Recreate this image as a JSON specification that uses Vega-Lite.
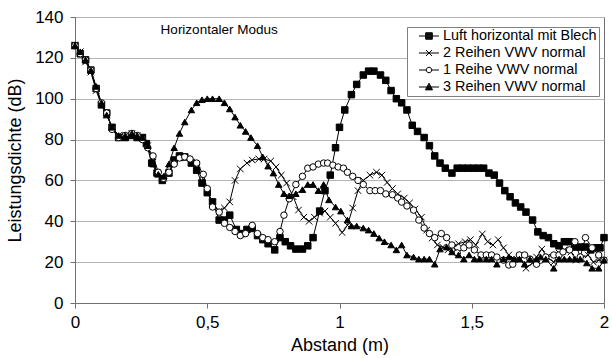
{
  "$schema": "https://vega.github.io/schema/vega-lite/v6.json",
  "width": 529,
  "height": 286,
  "autosize": "none",
  "padding": {"left": 75, "top": 17, "right": 8, "bottom": 55},
  "background": "white",
  "config": {
    "font": "Liberation Sans",
    "view": {"stroke": "#707070", "strokeWidth": 1},
    "axis": {
      "domainColor": "#707070",
      "tickColor": "#707070",
      "tickSize": 5,
      "labelColor": "black",
      "titleColor": "black",
      "labelFontSize": 17,
      "titleFontSize": 18,
      "titleFontWeight": "normal",
      "gridColor": "#b4b4b4",
      "gridWidth": 1
    }
  },
  "data": {
    "values": [
      {"s":"L","x":0,"y":126},{"s":"L","x":0.02,"y":122},{"s":"L","x":0.04,"y":119},{"s":"L","x":0.06,"y":114},{"s":"L","x":0.08,"y":105},
      {"s":"L","x":0.1,"y":97},{"s":"L","x":0.12,"y":93},{"s":"L","x":0.14,"y":86},{"s":"L","x":0.165,"y":81},{"s":"L","x":0.19,"y":81},
      {"s":"L","x":0.215,"y":82},{"s":"L","x":0.235,"y":81},{"s":"L","x":0.255,"y":81},{"s":"L","x":0.27,"y":78},{"s":"L","x":0.29,"y":68.5},
      {"s":"L","x":0.31,"y":63.6},{"s":"L","x":0.33,"y":60},{"s":"L","x":0.355,"y":63.6},{"s":"L","x":0.375,"y":70},{"s":"L","x":0.395,"y":72},
      {"s":"L","x":0.415,"y":71.5},{"s":"L","x":0.44,"y":68.5},{"s":"L","x":0.46,"y":65},{"s":"L","x":0.48,"y":58.7},{"s":"L","x":0.5,"y":54},
      {"s":"L","x":0.52,"y":49.5},{"s":"L","x":0.545,"y":40.6},{"s":"L","x":0.565,"y":40.6},{"s":"L","x":0.585,"y":43},{"s":"L","x":0.61,"y":36},
      {"s":"L","x":0.63,"y":34},{"s":"L","x":0.65,"y":36},{"s":"L","x":0.67,"y":36.5},{"s":"L","x":0.69,"y":33},{"s":"L","x":0.71,"y":31},
      {"s":"L","x":0.73,"y":29},{"s":"L","x":0.755,"y":26},{"s":"L","x":0.775,"y":32},{"s":"L","x":0.795,"y":30},{"s":"L","x":0.815,"y":28},
      {"s":"L","x":0.835,"y":26.4},{"s":"L","x":0.86,"y":26.4},{"s":"L","x":0.88,"y":28},{"s":"L","x":0.9,"y":32},{"s":"L","x":0.925,"y":45},
      {"s":"L","x":0.945,"y":55},{"s":"L","x":0.965,"y":62.6},{"s":"L","x":0.985,"y":76},{"s":"L","x":1.0,"y":86},{"s":"L","x":1.02,"y":94.5},
      {"s":"L","x":1.045,"y":102},{"s":"L","x":1.065,"y":107},{"s":"L","x":1.09,"y":111.6},{"s":"L","x":1.11,"y":113.5},{"s":"L","x":1.13,"y":113.5},
      {"s":"L","x":1.155,"y":111.6},{"s":"L","x":1.175,"y":109},{"s":"L","x":1.195,"y":104},{"s":"L","x":1.215,"y":100},{"s":"L","x":1.235,"y":98},
      {"s":"L","x":1.255,"y":94.5},{"s":"L","x":1.275,"y":87},{"s":"L","x":1.295,"y":84},{"s":"L","x":1.32,"y":81},{"s":"L","x":1.34,"y":77},
      {"s":"L","x":1.36,"y":72},{"s":"L","x":1.38,"y":68.5},{"s":"L","x":1.4,"y":66},{"s":"L","x":1.425,"y":63.6},{"s":"L","x":1.445,"y":66},
      {"s":"L","x":1.465,"y":66},{"s":"L","x":1.485,"y":66},{"s":"L","x":1.505,"y":66},{"s":"L","x":1.525,"y":66},{"s":"L","x":1.545,"y":66},
      {"s":"L","x":1.565,"y":63.6},{"s":"L","x":1.585,"y":62.6},{"s":"L","x":1.605,"y":58.7},{"s":"L","x":1.625,"y":55},{"s":"L","x":1.645,"y":52},
      {"s":"L","x":1.665,"y":49},{"s":"L","x":1.685,"y":47},{"s":"L","x":1.705,"y":44.5},{"s":"L","x":1.73,"y":40.6},{"s":"L","x":1.75,"y":34.8},
      {"s":"L","x":1.77,"y":33},{"s":"L","x":1.79,"y":32},{"s":"L","x":1.81,"y":29},{"s":"L","x":1.83,"y":28},{"s":"L","x":1.85,"y":30},
      {"s":"L","x":1.87,"y":30},{"s":"L","x":1.89,"y":27.4},{"s":"L","x":1.91,"y":27.4},{"s":"L","x":1.93,"y":27.4},{"s":"L","x":1.95,"y":26},
      {"s":"L","x":1.97,"y":27},{"s":"L","x":1.985,"y":27},{"s":"L","x":2.0,"y":32},

      {"s":"R2","x":0,"y":126},{"s":"R2","x":0.02,"y":123},{"s":"R2","x":0.04,"y":118},{"s":"R2","x":0.06,"y":113},{"s":"R2","x":0.08,"y":104},
      {"s":"R2","x":0.1,"y":97},{"s":"R2","x":0.12,"y":92},{"s":"R2","x":0.14,"y":86},{"s":"R2","x":0.165,"y":82},{"s":"R2","x":0.19,"y":82},
      {"s":"R2","x":0.215,"y":83},{"s":"R2","x":0.235,"y":82},{"s":"R2","x":0.255,"y":81},{"s":"R2","x":0.275,"y":77},{"s":"R2","x":0.295,"y":69},
      {"s":"R2","x":0.315,"y":63},{"s":"R2","x":0.335,"y":61},{"s":"R2","x":0.355,"y":64},{"s":"R2","x":0.375,"y":69},{"s":"R2","x":0.395,"y":71},
      {"s":"R2","x":0.415,"y":71},{"s":"R2","x":0.44,"y":69},{"s":"R2","x":0.46,"y":66},{"s":"R2","x":0.48,"y":62},{"s":"R2","x":0.5,"y":55},
      {"s":"R2","x":0.52,"y":49},{"s":"R2","x":0.545,"y":45},{"s":"R2","x":0.565,"y":46.5},{"s":"R2","x":0.585,"y":49.5},{"s":"R2","x":0.605,"y":60},
      {"s":"R2","x":0.625,"y":65.6},{"s":"R2","x":0.65,"y":68.5},{"s":"R2","x":0.67,"y":70},{"s":"R2","x":0.695,"y":70.5},{"s":"R2","x":0.715,"y":70.5},
      {"s":"R2","x":0.74,"y":69.5},{"s":"R2","x":0.76,"y":66.6},{"s":"R2","x":0.78,"y":62.6},{"s":"R2","x":0.8,"y":58.7},{"s":"R2","x":0.825,"y":52},
      {"s":"R2","x":0.845,"y":45.5},{"s":"R2","x":0.865,"y":42},{"s":"R2","x":0.885,"y":40},{"s":"R2","x":0.905,"y":42},{"s":"R2","x":0.925,"y":44},
      {"s":"R2","x":0.945,"y":45},{"s":"R2","x":0.965,"y":42},{"s":"R2","x":0.985,"y":39},{"s":"R2","x":1.01,"y":34.5},{"s":"R2","x":1.03,"y":38},
      {"s":"R2","x":1.05,"y":46.5},{"s":"R2","x":1.07,"y":55},{"s":"R2","x":1.09,"y":60},{"s":"R2","x":1.115,"y":62.6},{"s":"R2","x":1.14,"y":64},
      {"s":"R2","x":1.16,"y":62.6},{"s":"R2","x":1.18,"y":59},{"s":"R2","x":1.2,"y":56},{"s":"R2","x":1.22,"y":53.4},{"s":"R2","x":1.245,"y":51.4},
      {"s":"R2","x":1.265,"y":49},{"s":"R2","x":1.285,"y":46},{"s":"R2","x":1.31,"y":42},{"s":"R2","x":1.33,"y":35.7},{"s":"R2","x":1.35,"y":31.8},
      {"s":"R2","x":1.37,"y":28.4},{"s":"R2","x":1.39,"y":27.4},{"s":"R2","x":1.41,"y":26},{"s":"R2","x":1.43,"y":27.4},{"s":"R2","x":1.45,"y":29},
      {"s":"R2","x":1.475,"y":30},{"s":"R2","x":1.495,"y":31},{"s":"R2","x":1.515,"y":28.4},{"s":"R2","x":1.54,"y":33.8},{"s":"R2","x":1.56,"y":30},
      {"s":"R2","x":1.58,"y":28.4},{"s":"R2","x":1.6,"y":31},{"s":"R2","x":1.62,"y":27},{"s":"R2","x":1.64,"y":23.5},{"s":"R2","x":1.66,"y":21.5},
      {"s":"R2","x":1.685,"y":21.5},{"s":"R2","x":1.705,"y":17},{"s":"R2","x":1.73,"y":19.6},{"s":"R2","x":1.745,"y":22.5},{"s":"R2","x":1.765,"y":26.4},
      {"s":"R2","x":1.785,"y":22.5},{"s":"R2","x":1.81,"y":20},{"s":"R2","x":1.83,"y":24.5},{"s":"R2","x":1.85,"y":26},{"s":"R2","x":1.875,"y":25},
      {"s":"R2","x":1.895,"y":21},{"s":"R2","x":1.915,"y":22},{"s":"R2","x":1.94,"y":23.5},{"s":"R2","x":1.96,"y":20},{"s":"R2","x":1.98,"y":21},
      {"s":"R2","x":2.0,"y":21},

      {"s":"R1","x":0,"y":126},{"s":"R1","x":0.02,"y":122},{"s":"R1","x":0.04,"y":119},{"s":"R1","x":0.06,"y":114},{"s":"R1","x":0.08,"y":105},
      {"s":"R1","x":0.1,"y":98},{"s":"R1","x":0.12,"y":93},{"s":"R1","x":0.14,"y":85},{"s":"R1","x":0.165,"y":81},{"s":"R1","x":0.19,"y":82},
      {"s":"R1","x":0.215,"y":83},{"s":"R1","x":0.235,"y":82},{"s":"R1","x":0.255,"y":80},{"s":"R1","x":0.275,"y":76},{"s":"R1","x":0.295,"y":72},
      {"s":"R1","x":0.315,"y":64},{"s":"R1","x":0.335,"y":61},{"s":"R1","x":0.355,"y":64},{"s":"R1","x":0.375,"y":68},{"s":"R1","x":0.395,"y":71},
      {"s":"R1","x":0.415,"y":71.5},{"s":"R1","x":0.435,"y":70.5},{"s":"R1","x":0.46,"y":68.5},{"s":"R1","x":0.485,"y":63},{"s":"R1","x":0.5,"y":56},
      {"s":"R1","x":0.52,"y":47},{"s":"R1","x":0.545,"y":44.5},{"s":"R1","x":0.565,"y":39},{"s":"R1","x":0.585,"y":37},{"s":"R1","x":0.605,"y":35},
      {"s":"R1","x":0.625,"y":33},{"s":"R1","x":0.645,"y":34},{"s":"R1","x":0.67,"y":38},{"s":"R1","x":0.69,"y":34},{"s":"R1","x":0.71,"y":32},
      {"s":"R1","x":0.73,"y":31},{"s":"R1","x":0.755,"y":30},{"s":"R1","x":0.775,"y":35},{"s":"R1","x":0.79,"y":43},{"s":"R1","x":0.81,"y":51},
      {"s":"R1","x":0.835,"y":58},{"s":"R1","x":0.86,"y":62},{"s":"R1","x":0.88,"y":66},{"s":"R1","x":0.9,"y":66.6},{"s":"R1","x":0.92,"y":68},
      {"s":"R1","x":0.94,"y":68.5},{"s":"R1","x":0.955,"y":68.5},{"s":"R1","x":0.975,"y":67.5},{"s":"R1","x":0.995,"y":66.6},{"s":"R1","x":1.015,"y":66},
      {"s":"R1","x":1.03,"y":64},{"s":"R1","x":1.05,"y":62},{"s":"R1","x":1.07,"y":60},{"s":"R1","x":1.09,"y":58},{"s":"R1","x":1.115,"y":55},
      {"s":"R1","x":1.135,"y":55},{"s":"R1","x":1.155,"y":55},{"s":"R1","x":1.175,"y":53.4},{"s":"R1","x":1.2,"y":53},{"s":"R1","x":1.22,"y":51.4},
      {"s":"R1","x":1.235,"y":49.4},{"s":"R1","x":1.255,"y":47.5},{"s":"R1","x":1.28,"y":45.5},{"s":"R1","x":1.3,"y":40.6},{"s":"R1","x":1.32,"y":36.7},
      {"s":"R1","x":1.34,"y":34},{"s":"R1","x":1.36,"y":32},{"s":"R1","x":1.385,"y":34},{"s":"R1","x":1.405,"y":32},{"s":"R1","x":1.425,"y":28.4},
      {"s":"R1","x":1.445,"y":24.5},{"s":"R1","x":1.47,"y":27},{"s":"R1","x":1.49,"y":28.4},{"s":"R1","x":1.51,"y":26},{"s":"R1","x":1.535,"y":23.5},
      {"s":"R1","x":1.555,"y":23.5},{"s":"R1","x":1.575,"y":23.5},{"s":"R1","x":1.595,"y":22.5},{"s":"R1","x":1.62,"y":21},{"s":"R1","x":1.64,"y":18.6},
      {"s":"R1","x":1.655,"y":19},{"s":"R1","x":1.68,"y":23.5},{"s":"R1","x":1.7,"y":23.5},{"s":"R1","x":1.72,"y":21.5},{"s":"R1","x":1.745,"y":19},
      {"s":"R1","x":1.76,"y":21},{"s":"R1","x":1.78,"y":22.5},{"s":"R1","x":1.81,"y":23.5},{"s":"R1","x":1.83,"y":23.5},{"s":"R1","x":1.845,"y":25},
      {"s":"R1","x":1.87,"y":26},{"s":"R1","x":1.89,"y":30},{"s":"R1","x":1.91,"y":22.5},{"s":"R1","x":1.93,"y":32},{"s":"R1","x":1.955,"y":27},
      {"s":"R1","x":1.98,"y":23.5},{"s":"R1","x":2.0,"y":21},

      {"s":"R3","x":0,"y":126},{"s":"R3","x":0.02,"y":123},{"s":"R3","x":0.04,"y":119},{"s":"R3","x":0.06,"y":114},{"s":"R3","x":0.08,"y":106},
      {"s":"R3","x":0.1,"y":98},{"s":"R3","x":0.12,"y":92},{"s":"R3","x":0.14,"y":86},{"s":"R3","x":0.165,"y":82},{"s":"R3","x":0.19,"y":82},
      {"s":"R3","x":0.215,"y":83},{"s":"R3","x":0.235,"y":82},{"s":"R3","x":0.255,"y":81},{"s":"R3","x":0.275,"y":77},{"s":"R3","x":0.295,"y":68},
      {"s":"R3","x":0.315,"y":63},{"s":"R3","x":0.335,"y":62},{"s":"R3","x":0.355,"y":68},{"s":"R3","x":0.375,"y":76},{"s":"R3","x":0.395,"y":83},
      {"s":"R3","x":0.415,"y":88.6},{"s":"R3","x":0.44,"y":94.5},{"s":"R3","x":0.46,"y":98},{"s":"R3","x":0.48,"y":99.5},{"s":"R3","x":0.5,"y":100},
      {"s":"R3","x":0.52,"y":100},{"s":"R3","x":0.545,"y":100},{"s":"R3","x":0.565,"y":98},{"s":"R3","x":0.585,"y":95},{"s":"R3","x":0.605,"y":91},
      {"s":"R3","x":0.625,"y":87},{"s":"R3","x":0.645,"y":84},{"s":"R3","x":0.665,"y":81},{"s":"R3","x":0.69,"y":77},{"s":"R3","x":0.71,"y":71.5},
      {"s":"R3","x":0.73,"y":67},{"s":"R3","x":0.75,"y":63.6},{"s":"R3","x":0.77,"y":58},{"s":"R3","x":0.79,"y":53.5},{"s":"R3","x":0.81,"y":52.5},
      {"s":"R3","x":0.835,"y":53.5},{"s":"R3","x":0.86,"y":55.5},{"s":"R3","x":0.88,"y":58},{"s":"R3","x":0.9,"y":58},{"s":"R3","x":0.92,"y":55},
      {"s":"R3","x":0.94,"y":58},{"s":"R3","x":0.96,"y":50.5},{"s":"R3","x":0.985,"y":47},{"s":"R3","x":1.005,"y":45},{"s":"R3","x":1.03,"y":40.6},
      {"s":"R3","x":1.045,"y":37.7},{"s":"R3","x":1.065,"y":37.7},{"s":"R3","x":1.09,"y":36.7},{"s":"R3","x":1.11,"y":35.7},{"s":"R3","x":1.13,"y":34},
      {"s":"R3","x":1.15,"y":31.8},{"s":"R3","x":1.17,"y":30},{"s":"R3","x":1.195,"y":28.4},{"s":"R3","x":1.215,"y":26},{"s":"R3","x":1.235,"y":28.4},
      {"s":"R3","x":1.255,"y":23.5},{"s":"R3","x":1.28,"y":22.5},{"s":"R3","x":1.3,"y":21.5},{"s":"R3","x":1.32,"y":21.5},{"s":"R3","x":1.34,"y":21.5},
      {"s":"R3","x":1.36,"y":19},{"s":"R3","x":1.38,"y":26.4},{"s":"R3","x":1.405,"y":27.4},{"s":"R3","x":1.425,"y":25},{"s":"R3","x":1.45,"y":23.5},
      {"s":"R3","x":1.47,"y":21.5},{"s":"R3","x":1.49,"y":23.5},{"s":"R3","x":1.51,"y":21.5},{"s":"R3","x":1.53,"y":21.5},{"s":"R3","x":1.555,"y":21.5},
      {"s":"R3","x":1.575,"y":21.5},{"s":"R3","x":1.595,"y":19},{"s":"R3","x":1.62,"y":21.5},{"s":"R3","x":1.64,"y":22.5},{"s":"R3","x":1.66,"y":21.5},
      {"s":"R3","x":1.68,"y":21.5},{"s":"R3","x":1.7,"y":19},{"s":"R3","x":1.72,"y":21.5},{"s":"R3","x":1.745,"y":21.5},{"s":"R3","x":1.76,"y":22.5},
      {"s":"R3","x":1.78,"y":21.5},{"s":"R3","x":1.81,"y":17},{"s":"R3","x":1.83,"y":21.5},{"s":"R3","x":1.85,"y":21.5},{"s":"R3","x":1.87,"y":21.5},
      {"s":"R3","x":1.89,"y":21.5},{"s":"R3","x":1.91,"y":21.5},{"s":"R3","x":1.935,"y":19.6},{"s":"R3","x":1.955,"y":17},{"s":"R3","x":1.98,"y":17},
      {"s":"R3","x":2.0,"y":21}
    ]
  },
  "encoding": {
    "x": {
      "field": "x",
      "type": "quantitative",
      "title": "Abstand (m)",
      "scale": {"domain": [0, 2], "nice": false},
      "axis": {"values": [0, 0.5, 1, 1.5, 2], "grid": false, "labelFlush": false, "labelExpr": "replace(format(datum.value, '~g'), '.', ',')", "labelPadding": 6, "titlePadding": 6}
    },
    "y": {
      "field": "y",
      "type": "quantitative",
      "title": "Leistungsdichte (dB)",
      "scale": {"domain": [0, 140], "nice": false},
      "axis": {"values": [0, 20, 40, 60, 80, 100, 120, 140], "grid": true, "labelPadding": 7, "titlePadding": 10}
    }
  },
  "layer": [
    {
      "mark": {"type": "line", "color": "black", "strokeWidth": 1},
      "encoding": {"detail": {"field": "s"}, "order": {"field": "x"}}
    },
    {
      "mark": {"type": "point", "filled": true, "stroke": "black", "strokeWidth": 1, "opacity": 1, "size": 42},
      "encoding": {
        "shape": {
          "field": "s",
          "scale": {"domain": ["L", "R2", "R1", "R3"], "range": ["square", "M-1,-1L1,1M-1,1L1,-1", "circle", "triangle-up"]},
          "legend": null
        },
        "fill": {
          "condition": [
            {"test": "datum.s === 'R1'", "value": "white"},
            {"test": "datum.s === 'R2'", "value": "transparent"}
          ],
          "value": "black"
        }
      }
    },
    {
      "transform": [{"filter": "datum.s === 'L' && datum.x === 0"}],
      "mark": {"type": "text", "font": "Liberation Sans", "fontSize": 13.5, "color": "black"},
      "encoding": {
        "x": {"datum": 0.545},
        "y": {"datum": 133.6},
        "text": {"value": "Horizontaler Modus"}
      }
    },
    {
      "mark": {"type": "point", "filled": true, "fill": "white", "stroke": "black", "strokeWidth": 1, "opacity": 0},
      "encoding": {
        "shape": {
          "field": "s",
          "scale": {
            "domain": ["L", "R2", "R1", "R3"],
            "range": [
              "M-0.91,0H0.91M-0.3,-0.3H0.3V0.3H-0.3ZM-0.3,-0.22H0.3M-0.3,-0.14H0.3M-0.3,-0.06H0.3M-0.3,0.06H0.3M-0.3,0.14H0.3M-0.3,0.22H0.3",
              "M-0.91,0H0.91M-0.27,-0.27L0.27,0.27M-0.27,0.27L0.27,-0.27",
              "M-0.91,0H-0.25M0.25,0H0.91M-0.25,0A0.25,0.25,0,1,0,0.25,0A0.25,0.25,0,1,0,-0.25,0Z",
              "M-0.91,0H0.91M0,-0.34L0.32,0.26H-0.32ZM-0.04,-0.26H0.04M-0.085,-0.18H0.085M-0.128,-0.1H0.128M-0.171,-0.02H0.171M-0.213,0.06H0.213M-0.256,0.14H0.256M-0.299,0.22H0.299"
            ]
          },
          "legend": {
            "title": null,
            "orient": "none",
            "legendX": 332,
            "legendY": 10,
            "strokeColor": "#808080",
            "fillColor": "white",
            "padding": 2,
            "symbolSize": 484,
            "symbolOffset": 8.5,
            "symbolStrokeWidth": 1,
            "symbolFillColor": "white",
            "clipHeight": 14,
            "rowPadding": 2,
            "labelFontSize": 14.4,
            "labelColor": "black",
            "labelOffset": 2.5,
            "labelExpr": "{'L': 'Luft horizontal mit Blech', 'R2': '2 Reihen VWV normal', 'R1': '1 Reihe VWV normal', 'R3': '3 Reihen VWV normal'}[datum.label]",
            "encode": {"symbols": {"opacity": {"value": 1}}}
          }
        }
      }
    }
  ],
  "resolve": {"scale": {"shape": "independent"}}
}
